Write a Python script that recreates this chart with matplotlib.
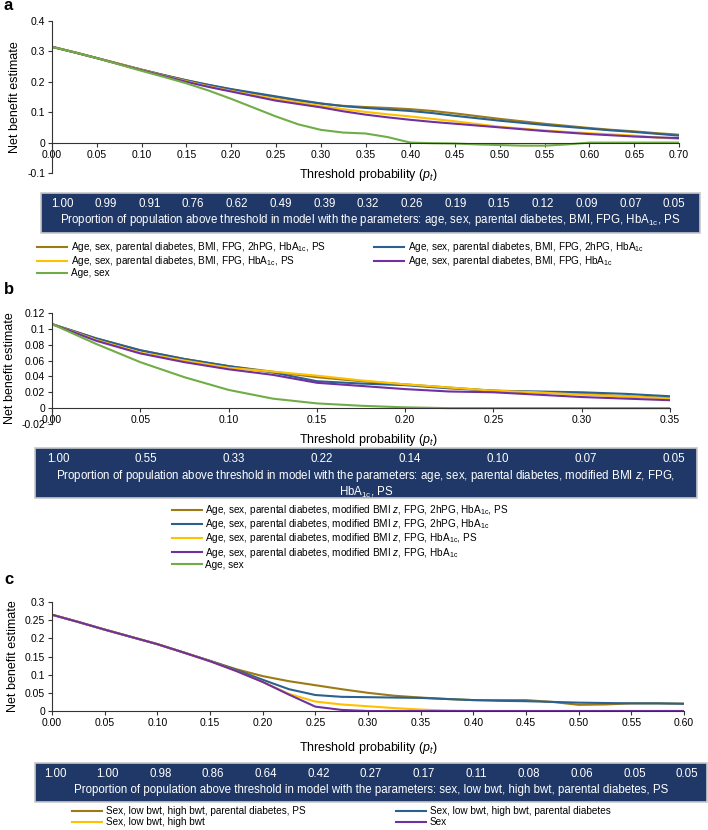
import numpy as np
import matplotlib
matplotlib.use('Agg')
import matplotlib.pyplot as plt
from matplotlib.patches import Rectangle

plt.rcParams['font.family'] = ['Liberation Sans', 'DejaVu Sans']
plt.rcParams['mathtext.fontset'] = 'custom'
plt.rcParams['mathtext.rm'] = 'Liberation Sans'
plt.rcParams['mathtext.it'] = 'Liberation Sans:italic'
plt.rcParams['mathtext.bf'] = 'Liberation Sans:bold'

# colours (Excel style)
C_BROWN = '#9c7a16'
C_BLUE = '#2b6190'
C_YELLOW = '#ffc000'
C_PURPLE = '#7030a0'
C_GREEN = '#70ad47'
C_BOX = '#1f3867'

HBA = r'HbA$_{\mathregular{1c}}$'

# ---------------- panel a ----------------
thr_a = [0.0, 0.025, 0.05, 0.075, 0.10, 0.125, 0.15, 0.175, 0.20, 0.225, 0.25, 0.275, 0.30, 0.325,
         0.35, 0.375, 0.40, 0.425, 0.45, 0.475, 0.50, 0.525, 0.55, 0.575, 0.60, 0.625, 0.65, 0.675, 0.70]
a_brown = [.315, .297, .278, .259, .240, .222, .205, .189, .175, .162, .150, .138, .128, .121, .117,
           .114, .110, .104, .096, .087, .078, .070, .062, .055, .048, .042, .037, .031, .026]
a_blue = [.315, .297, .278, .259, .240, .222, .205, .190, .176, .164, .152, .140, .129, .120, .114,
          .109, .104, .097, .088, .080, .072, .065, .058, .052, .046, .040, .035, .029, .023]
a_yellow = [.315, .297, .278, .259, .239, .220, .202, .185, .170, .156, .143, .132, .121, .110, .101,
            .093, .086, .078, .070, .061, .052, .046, .040, .035, .031, .027, .023, .017, .012]
a_purple = [.315, .297, .278, .258, .238, .219, .200, .183, .168, .153, .138, .127, .116, .103, .092,
            .083, .075, .068, .062, .056, .050, .044, .038, .033, .028, .024, .020, .017, .015]
a_green = [.315, .297, .278, .257, .236, .216, .195, .171, .144, .115, .086, .060, .042, .033, .030,
           .018, .000, -.002, -.003, -.006, -.008, -.010, -.010, -.006, .000, .000, .000, .000, .000]
a_labels = ['Age, sex, parental diabetes, BMI, FPG, 2hPG, ' + HBA + ', PS',
            'Age, sex, parental diabetes, BMI, FPG, 2hPG, ' + HBA,
            'Age, sex, parental diabetes, BMI, FPG, ' + HBA + ', PS',
            'Age, sex, parental diabetes, BMI, FPG, ' + HBA,
            'Age, sex']
a_xticks = [0.0, 0.05, 0.10, 0.15, 0.20, 0.25, 0.30, 0.35, 0.40, 0.45, 0.50, 0.55, 0.60, 0.65, 0.70]
a_prop = ['1.00', '0.99', '0.91', '0.76', '0.62', '0.49', '0.39', '0.32', '0.26', '0.19', '0.15',
          '0.12', '0.09', '0.07', '0.05']
a_yticks = [-0.1, 0, 0.1, 0.2, 0.3, 0.4]
a_ylabels = ['-0.1', '0', '0.1', '0.2', '0.3', '0.4']
a_desc = ('Proportion of population above threshold in model with the parameters: '
          'age, sex, parental diabetes, BMI, FPG, ' + HBA + ', PS')

# ---------------- panel b ----------------
thr_b = [0.0, 0.025, 0.05, 0.075, 0.10, 0.125, 0.15, 0.175, 0.20, 0.225, 0.25, 0.275, 0.30, 0.325, 0.35]
b_brown = [.106, .088, .073, .062, .053, .046, .039, .034, .030, .026, .022, .020, .018, .015, .013]
b_blue = [.106, .088, .073, .062, .053, .045, .034, .031, .029, .025, .022, .021, .020, .018, .015]
b_yellow = [.106, .086, .070, .060, .051, .046, .041, .035, .030, .026, .022, .020, .017, .015, .012]
b_purple = [.106, .085, .069, .058, .049, .042, .032, .028, .024, .021, .020, .017, .014, .012, .010]
b_green = [.106, .081, .058, .039, .023, .012, .006, .003, .001, .000, .000, .000, .000, .000, .000]
b_labels = ['Age, sex, parental diabetes, modified BMI $z$, FPG, 2hPG, ' + HBA + ', PS',
            'Age, sex, parental diabetes, modified BMI $z$, FPG, 2hPG, ' + HBA,
            'Age, sex, parental diabetes, modified BMI $z$, FPG, ' + HBA + ', PS',
            'Age, sex, parental diabetes, modified BMI $z$, FPG, ' + HBA,
            'Age, sex']
b_xticks = [0.0, 0.05, 0.10, 0.15, 0.20, 0.25, 0.30, 0.35]
b_prop = ['1.00', '0.55', '0.33', '0.22', '0.14', '0.10', '0.07', '0.05']
b_yticks = [-0.02, 0, 0.02, 0.04, 0.06, 0.08, 0.1, 0.12]
b_ylabels = ['-0.02', '0', '0.02', '0.04', '0.06', '0.08', '0.1', '0.12']
b_desc = ('Proportion of population above threshold in model with the parameters: '
          'age, sex, parental diabetes, modified BMI $z$, FPG,\n' + HBA + ', PS')

# ---------------- panel c ----------------
thr_c = [0.0, 0.025, 0.05, 0.075, 0.10, 0.125, 0.15, 0.175, 0.20, 0.225, 0.25, 0.275, 0.30,
         0.325, 0.35, 0.375, 0.40, 0.425, 0.45, 0.475, 0.50, 0.525, 0.55, 0.575, 0.60]
c_brown = [.265, .245, .224, .204, .184, .161, .138, .115, .096, .082, .071, .060, .050,
           .042, .037, .033, .030, .030, .030, .025, .017, .018, .021, .021, .020]
c_blue = [.265, .245, .224, .204, .184, .161, .138, .113, .086, .060, .044, .039, .038,
          .037, .036, .033, .030, .028, .027, .025, .023, .022, .021, .021, .020]
c_yellow = [.265, .245, .224, .204, .184, .161, .137, .110, .080, .047, .026, .018, .013,
            .008, .004, .001, .000, .000, .000, .000, .000, .000, .000, .000, .000]
c_purple = [.265, .245, .224, .204, .184, .161, .137, .110, .080, .045, .012, .003, .000,
            .000, .000, .000, .000, .000, .000, .000, .000, .000, .000, .000, .000]
c_labels = ['Sex, low bwt, high bwt, parental diabetes, PS',
            'Sex, low bwt, high bwt, parental diabetes',
            'Sex, low bwt, high bwt',
            'Sex']
c_xticks = [0.0, 0.05, 0.10, 0.15, 0.20, 0.25, 0.30, 0.35, 0.40, 0.45, 0.50, 0.55, 0.60]
c_prop = ['1.00', '1.00', '0.98', '0.86', '0.64', '0.42', '0.27', '0.17', '0.11', '0.08',
          '0.06', '0.05', '0.05']
c_yticks = [0, 0.05, 0.1, 0.15, 0.2, 0.25, 0.3]
c_ylabels = ['0', '0.05', '0.1', '0.15', '0.2', '0.25', '0.3']
c_desc = ('Proportion of population above threshold in model with the parameters: '
          'sex, low bwt, high bwt, parental diabetes, PS')

W, H = 708, 830
fig = plt.figure(figsize=(W / 100, H / 100), dpi=100)
LEG_FS = 7.2
BOX_FS = 8.3


def box(x0, y0, x1, y1):
    # pixel coords from top-left
    return [x0 / W, 1 - y1 / H, (x1 - x0) / W, (y1 - y0) / H]


def setup_axes(ax, xticks, yticks, ylabels, xlim, ylim, xlab_y):
    ax.set_xlim(*xlim)
    ax.set_ylim(*ylim)
    for s in ['top', 'right']:
        ax.spines[s].set_visible(False)
    ax.spines['bottom'].set_position(('data', 0))
    ax.spines['left'].set_color('#333333')
    ax.spines['bottom'].set_color('#333333')
    ax.set_xticks(xticks)
    ax.set_xticklabels(['%.2f' % t for t in xticks])
    ax.set_yticks(yticks)
    ax.set_yticklabels(ylabels)
    ax.tick_params(axis='both', direction='out', length=3, width=0.8, labelsize=7.5,
                   pad=2, color='#333333')
    ax.set_ylabel('Net benefit estimate', fontsize=9, labelpad=4)
    fig.text(368 / W, 1 - xlab_y / H, r'Threshold probability ($p_t$)', fontsize=9,
             ha='center', va='center')


def prop_box(x0, y0, x1, y1, props, desc, num_y, desc_y, nx0, nx1):
    # dark table under each chart; numbers spread evenly between nx0 and nx1 (px)
    fig.add_artist(Rectangle((x0 / W, 1 - y1 / H), (x1 - x0) / W, (y1 - y0) / H,
                             transform=fig.transFigure, facecolor=C_BOX,
                             edgecolor='#c8c8c8', linewidth=1.2, zorder=-1))
    xs = np.linspace(nx0, nx1, len(props))
    for xp, p in zip(xs, props):
        fig.text(xp / W, 1 - num_y / H, p, color='white', fontsize=BOX_FS,
                 ha='center', va='center')
    fig.text((x0 + x1) / 2 / W, 1 - desc_y / H, desc, color='white', fontsize=BOX_FS,
             ha='center', va='center', linespacing=1.0)


# panel a
ax1 = fig.add_axes(box(52, 21, 679, 173))
la = ax1.plot(thr_a, a_brown, color=C_BROWN, lw=1.5, label=a_labels[0])
lb = ax1.plot(thr_a, a_blue, color=C_BLUE, lw=1.5, label=a_labels[1])
ly = ax1.plot(thr_a, a_yellow, color=C_YELLOW, lw=1.5, label=a_labels[2])
lp = ax1.plot(thr_a, a_purple, color=C_PURPLE, lw=1.5, label=a_labels[3])
lg = ax1.plot(thr_a, a_green, color=C_GREEN, lw=1.5, label=a_labels[4])
setup_axes(ax1, a_xticks, a_yticks, a_ylabels, (0, 0.70), (-0.1, 0.4), 175)
prop_box(41, 193, 700, 233, a_prop, a_desc, 204, 220, 62, 674)
fig.legend([la[0], ly[0], lg[0], lb[0], lp[0]],
           [a_labels[0], a_labels[2], a_labels[4], a_labels[1], a_labels[3]],
           loc='upper left', bbox_to_anchor=(37 / W, 1 - 240 / H), ncol=2, frameon=False,
           fontsize=LEG_FS, handlelength=3.0, handletextpad=0.4, labelspacing=0.02,
           columnspacing=4.8, borderaxespad=0, borderpad=0)
fig.text(4 / W, 1 - 6 / H, 'a', fontsize=12, fontweight='bold', va='center')

# panel b
ax2 = fig.add_axes(box(52, 313, 670, 424))
ax2.plot(thr_b, b_brown, color=C_BROWN, lw=1.5, label=b_labels[0])
ax2.plot(thr_b, b_blue, color=C_BLUE, lw=1.5, label=b_labels[1])
ax2.plot(thr_b, b_yellow, color=C_YELLOW, lw=1.5, label=b_labels[2])
ax2.plot(thr_b, b_purple, color=C_PURPLE, lw=1.5, label=b_labels[3])
ax2.plot(thr_b, b_green, color=C_GREEN, lw=1.5, label=b_labels[4])
setup_axes(ax2, b_xticks, b_yticks, b_ylabels, (0, 0.35), (-0.02, 0.12), 440)
prop_box(35, 448, 697, 498, b_prop, b_desc, 459, 484, 58, 674)
h, l = ax2.get_legend_handles_labels()
fig.legend(h, l, loc='upper left', bbox_to_anchor=(172 / W, 1 - 503 / H), ncol=1,
           frameon=False, fontsize=LEG_FS, handlelength=3.0, handletextpad=0.3,
           labelspacing=0.02, borderaxespad=0, borderpad=0)
fig.text(4 / W, 1 - 289 / H, 'b', fontsize=12, fontweight='bold', va='center')

# panel c
ax3 = fig.add_axes(box(52, 602, 684, 711))
lc1 = ax3.plot(thr_c, c_brown, color=C_BROWN, lw=1.5, label=c_labels[0])
lc2 = ax3.plot(thr_c, c_blue, color=C_BLUE, lw=1.5, label=c_labels[1])
lc3 = ax3.plot(thr_c, c_yellow, color=C_YELLOW, lw=1.5, label=c_labels[2])
lc4 = ax3.plot(thr_c, c_purple, color=C_PURPLE, lw=1.5, label=c_labels[3])
setup_axes(ax3, c_xticks, c_yticks, c_ylabels, (0, 0.60), (0, 0.3), 748)
prop_box(35, 763, 707, 802, c_prop, c_desc, 774, 790, 55, 687)
fig.legend([lc1[0], lc3[0], lc2[0], lc4[0]],
           [c_labels[0], c_labels[2], c_labels[1], c_labels[3]],
           loc='upper left', bbox_to_anchor=(72 / W, 1 - 806 / H), ncol=2, frameon=False,
           fontsize=LEG_FS, handlelength=3.0, handletextpad=0.4, labelspacing=0.1,
           columnspacing=9.0, borderaxespad=0, borderpad=0)
fig.text(4 / W, 1 - 579 / H, 'c', fontsize=12, fontweight='bold', va='center')

fig.savefig('out.png', dpi=100)
